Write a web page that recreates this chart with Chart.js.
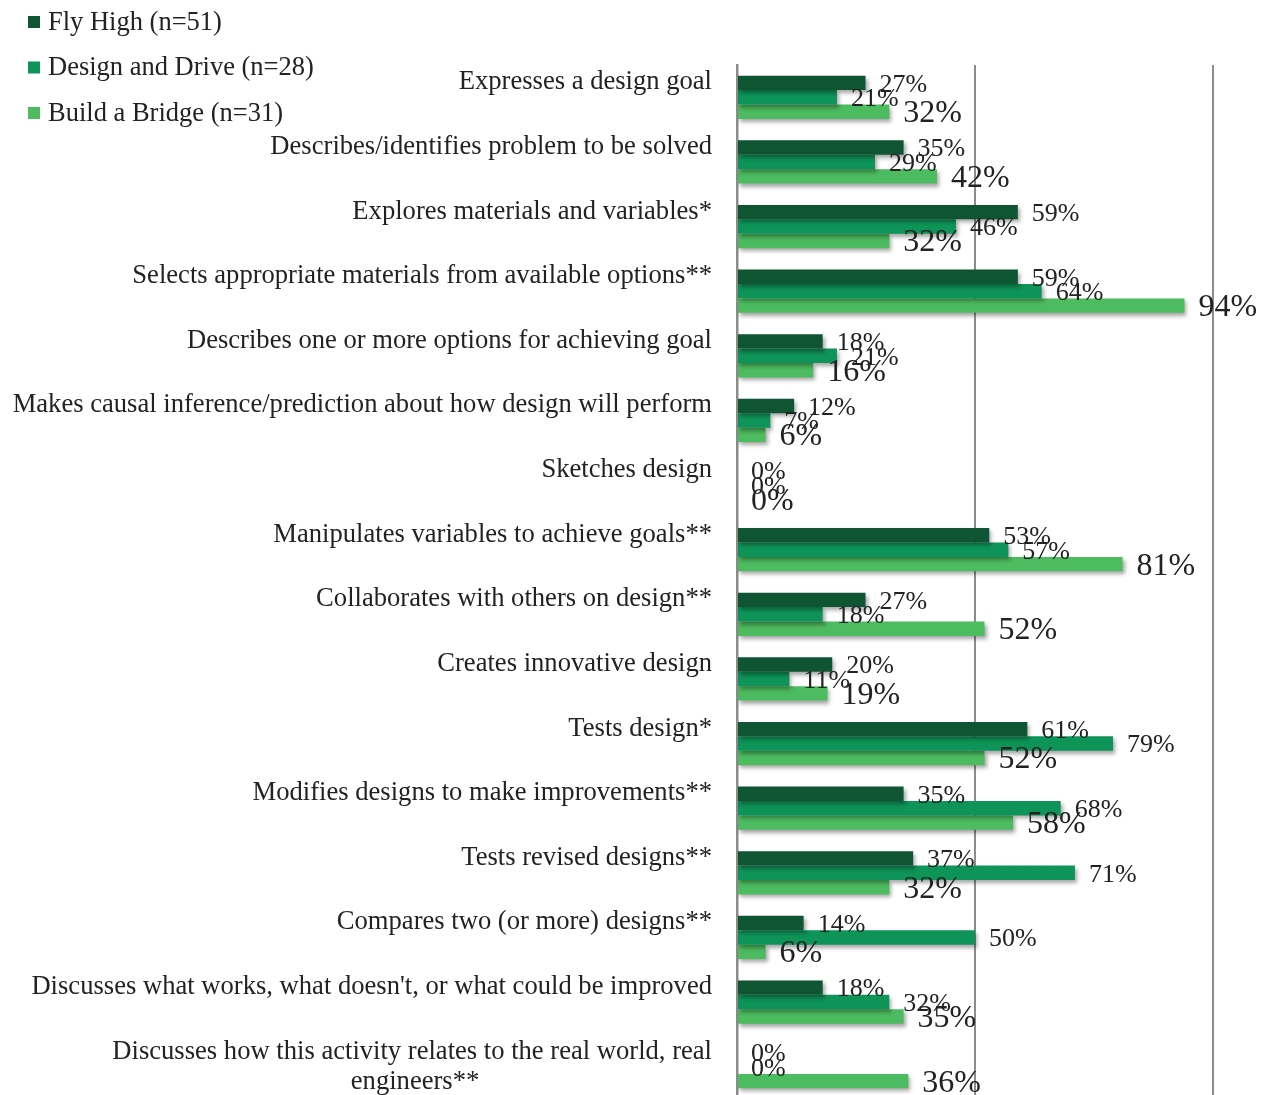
<!DOCTYPE html>
<html>
<head>
<meta charset="utf-8">
<script src="https://cdn.jsdelivr.net/npm/chart.js@4/dist/chart.umd.min.js"></script>
<style>
  html, body { margin: 0; padding: 0; background: #fff; overflow: hidden; }
  #wrap { width: 1262px; height: 1099px; position: relative; }
</style>
</head>
<body>
<div id="wrap"><canvas id="chart"></canvas></div>
<script>
// behaviours observed, % of groups in each activity
const categories = [
  'Expresses a design goal',
  'Describes/identifies problem to be solved',
  'Explores materials and variables*',
  'Selects appropriate materials from available options**',
  'Describes one or more options for achieving goal',
  'Makes causal inference/prediction about how design will perform',
  'Sketches design',
  'Manipulates variables to achieve goals**',
  'Collaborates with others on design**',
  'Creates innovative design',
  'Tests design*',
  'Modifies designs to make improvements**',
  'Tests revised designs**',
  'Compares two (or more) designs**',
  "Discusses what works, what doesn't, or what could be improved",
  'Discusses how this activity relates to the real world, real engineers**'
];
const flyHigh       = [27, 35, 59, 59, 18, 12, 0, 53, 27, 20, 61, 35, 37, 14, 18, 0];
const designDrive   = [21, 29, 46, 64, 21, 7, 0, 57, 18, 11, 79, 68, 71, 50, 32, 0];
const buildBridge   = [32, 42, 32, 94, 16, 6, 0, 81, 52, 19, 52, 58, 32, 6, 35, 36];
const seriesNames   = ['Fly High (n=51)', 'Design and Drive (n=28)', 'Build a Bridge (n=31)'];
const seriesColors  = ['#0f5534', '#0e9459', '#4dbb5f'];

const serif = '"Liberation Serif", "Times New Roman", serif';
const labelSize = 26.6;

// the long last label wraps; its second line is centred under the first
// by padding it with trailing spaces (ticks are right-aligned)
function centredWrap(first, second) {
  const m = document.createElement('canvas').getContext('2d');
  m.font = labelSize + 'px ' + serif;
  const gap = (m.measureText(first).width - m.measureText(second).width) / 2;
  const n = Math.max(0, Math.round(gap / m.measureText(' ').width));
  return [first, second + ' '.repeat(n)];
}

// single-line labels get an empty second line so they sit above the band centre
const tickLabels = categories.map(function (c, i) {
  if (i === categories.length - 1) {
    return centredWrap('Discusses how this activity relates to the real world, real', 'engineers**');
  }
  return [c, ''];
});

// soft shadow under each bar
const barShadow = {
  id: 'barShadow',
  beforeDatasetDraw: function (chart) {
    const ctx = chart.ctx;
    ctx.save();
    ctx.shadowColor = 'rgba(0,0,0,0.35)';
    ctx.shadowBlur = 4;
    ctx.shadowOffsetX = 2;
    ctx.shadowOffsetY = 3;
  },
  afterDatasetDraw: function (chart) {
    chart.ctx.restore();
  }
};

// value labels at the end of each bar
const valueLabels = {
  id: 'valueLabels',
  afterDatasetsDraw: function (chart) {
    const ctx = chart.ctx;
    ctx.save();
    ctx.fillStyle = '#222';
    ctx.textAlign = 'left';
    ctx.textBaseline = 'middle';
    chart.data.datasets.forEach(function (ds, di) {
      const meta = chart.getDatasetMeta(di);
      ctx.font = (di === 2 ? 32 : 26) + 'px ' + serif;
      meta.data.forEach(function (bar, i) {
        ctx.fillText(ds.data[i] + '%', bar.x + 14, bar.y + 2);
      });
    });
    ctx.restore();
  }
};

// stacked legend in the top-left corner
const cornerLegend = {
  id: 'cornerLegend',
  afterDraw: function (chart) {
    const ctx = chart.ctx;
    ctx.save();
    ctx.font = '26.5px ' + serif;
    ctx.textBaseline = 'middle';
    ctx.textAlign = 'left';
    chart.data.datasets.forEach(function (ds, i) {
      const y = 22 + i * 45.5;
      ctx.fillStyle = ds.backgroundColor;
      ctx.fillRect(28, y - 6, 12, 12);
      ctx.fillStyle = '#222';
      ctx.fillText(ds.label, 48, y + 1);
    });
    ctx.restore();
  }
};

new Chart(document.getElementById('chart'), {
  type: 'bar',
  data: {
    labels: tickLabels,
    datasets: [
      { label: seriesNames[0], data: flyHigh, backgroundColor: seriesColors[0] },
      { label: seriesNames[1], data: designDrive, backgroundColor: seriesColors[1] },
      { label: seriesNames[2], data: buildBridge, backgroundColor: seriesColors[2] }
    ]
  },
  options: {
    indexAxis: 'y',
    responsive: true,
    maintainAspectRatio: false,
    animation: false,
    datasets: { bar: { categoryPercentage: 0.67, barPercentage: 1.0 } },
    layout: { padding: { top: 65, right: 49, left: 0, bottom: 0 } },
    plugins: { legend: { display: false }, tooltip: { enabled: false } },
    scales: {
      x: {
        min: 0, max: 100,
        afterFit: function (scale) { scale.height = 0; },
        ticks: { stepSize: 50, display: false },
        grid: { color: '#8c8c8c', lineWidth: 2, drawTicks: false },
        border: { display: false }
      },
      y: {
        afterFit: function (scale) {
          scale.width = 737;
          scale.paddingTop = 0;
          scale.paddingBottom = 0;
        },
        grid: { display: false, drawTicks: false },
        border: { display: true, color: '#8c8c8c', width: 2.5 },
        ticks: {
          padding: 25,
          color: '#222',
          autoSkip: false,
          font: { family: serif, size: labelSize, lineHeight: 1.13 }
        }
      }
    }
  },
  plugins: [barShadow, valueLabels, cornerLegend]
});
</script>
</body>
</html>
